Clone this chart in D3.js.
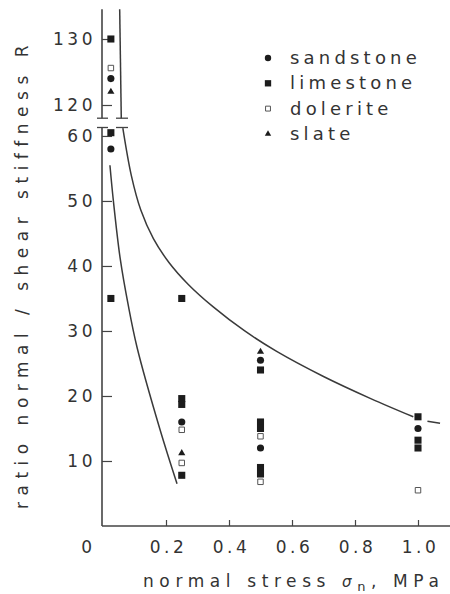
<!DOCTYPE html>
<html>
<head>
<meta charset="utf-8">
<script src="https://cdn.jsdelivr.net/npm/d3@7"></script>
<style>
body { margin: 0; background: #fff; }
svg text { font-family: 'DejaVu Sans', sans-serif; fill: #333; }
</style>
</head>
<body>
<svg width="450" height="594"></svg>
<script>
// data: [normal stress MPa, ratio R]
var sandstone = [[0.025, 124], [0.025, 58], [0.25, 16], [0.5, 25.5], [0.5, 12], [1.0, 15]];
var limestone = [[0.025, 130], [0.025, 60.5], [0.025, 35], [0.25, 35], [0.25, 19.6], [0.25, 18.7], [0.25, 7.8],
  [0.5, 24], [0.5, 16], [0.5, 15], [0.5, 9], [0.5, 8], [1.0, 16.8], [1.0, 13.2], [1.0, 12]];
var dolerite = [[0.025, 125.6], [0.25, 14.8], [0.25, 9.7], [0.5, 13.8], [0.5, 6.8], [1.0, 5.5]];
var slate = [[0.025, 122], [0.25, 11.2], [0.5, 26.8]];

// the two hand-drawn envelope curves
var upperCurveTop = [[0.053, 134.5], [0.058, 118]];
var upperCurve = [[0.063, 61.2], [0.09, 53.9], [0.12, 48.6], [0.16, 44.2], [0.21, 40.5], [0.27, 37.2], [0.35, 33.7],
  [0.45, 30], [0.55, 26.9], [0.7, 23], [0.85, 19.6], [0.985, 16.8]];
var upperTail = [[1.03, 16.1], [1.07, 15.8]];
var lowerCurve = [[0.022, 55.5], [0.033, 50], [0.055, 41], [0.08, 34], [0.108, 27.5], [0.18, 15], [0.235, 6.5]];

var xTicks = [0, 0.2, 0.4, 0.6, 0.8, 1.0];
var yTicksLow = [10, 20, 30, 40, 50, 60];
var yTicksHigh = [120, 130];
var legendNames = ['sandstone', 'limestone', 'dolerite', 'slate'];

var svg = d3.select('svg');
var ink = '#1c1c1c';

var x = d3.scaleLinear().domain([0, 1]).range([103, 418]);
// broken y axis: lower part 0..61.3, upper part 118..134.5
var yLow = d3.scaleLinear().domain([0, 61.3]).range([526, 127.5]);
var yHigh = d3.scaleLinear().domain([118, 134.5]).range([118.2, 9.3]);
function yOf(v) { return v > 100 ? yHigh(v) : yLow(v); }

var g = svg.append('g');

// axis lines drawn by hand so the break shows
g.append('line').attr('x1', 102).attr('x2', 102).attr('y1', yLow(0)).attr('y2', yLow(61.3))
  .attr('stroke', '#444').attr('stroke-width', 1.6);
g.append('line').attr('x1', 102).attr('x2', 102).attr('y1', yHigh(118)).attr('y2', yHigh(134.5))
  .attr('stroke', '#444').attr('stroke-width', 1.6);
g.append('line').attr('x1', 102).attr('x2', 450).attr('y1', yLow(0)).attr('y2', yLow(0))
  .attr('stroke', '#444').attr('stroke-width', 1.6);

// x axis
g.append('g')
  .attr('transform', 'translate(0,' + yLow(0) + ')')
  .call(d3.axisBottom(x).tickValues(xTicks).tickSizeInner(-6).tickSizeOuter(0).tickPadding(15)
    .tickFormat(function(d) { return d === 0 ? '0' : d.toFixed(1); }))
  .call(function(a) {
    a.select('.domain').remove();
    a.selectAll('line').attr('stroke', '#444').attr('stroke-width', 1.2)
      .filter(function(d) { return d === 0; }).remove();
    a.selectAll('text').attr('fill', '#333').style('font-size', '17px').style('letter-spacing', '3.5px')
      .attr('dx', function(d) { return d === 0 ? -15 : 2; });
  });

// y axis, both pieces
function yAxisPiece(scale, ticks) {
  g.append('g')
    .attr('transform', 'translate(102,0)')
    .call(d3.axisLeft(scale).tickValues(ticks).tickSizeInner(-10).tickSizeOuter(0).tickPadding(6))
    .call(function(a) {
      a.select('.domain').remove();
      a.selectAll('line').attr('stroke', '#444').attr('stroke-width', 1.2);
      a.selectAll('text').attr('fill', '#333').style('font-size', '17px').style('letter-spacing', '3.5px');
    });
}
yAxisPiece(yLow, yTicksLow);
yAxisPiece(yHigh, yTicksHigh);

// break marks on axis and on the curve
[yHigh(118), yLow(61.3)].forEach(function(yy) {
  g.append('line').attr('x1', 97).attr('x2', 108).attr('y1', yy).attr('y2', yy)
    .attr('stroke', '#444').attr('stroke-width', 1.3);
  g.append('line').attr('x1', 116).attr('x2', 128).attr('y1', yy).attr('y2', yy)
    .attr('stroke', '#444').attr('stroke-width', 1.3);
});

// curves
var line = d3.line()
  .curve(d3.curveCatmullRom)
  .x(function(d) { return x(d[0]); })
  .y(function(d) { return yOf(d[1]); });

[upperCurveTop, upperCurve, upperTail, lowerCurve].forEach(function(c) {
  g.append('path').attr('d', line(c)).attr('fill', 'none').attr('stroke', '#3a3a3a').attr('stroke-width', 1.5);
});

// markers
var shapes = {
  sandstone: { type: d3.symbolCircle, size: 40, fill: ink, stroke: 'none' },
  limestone: { type: d3.symbolSquare, size: 50, fill: ink, stroke: 'none' },
  dolerite: { type: d3.symbolSquare, size: 30, fill: '#fff', stroke: '#555' },
  slate: { type: d3.symbolTriangle, size: 22, fill: ink, stroke: 'none' }
};

function drawPoints(name, pts) {
  var s = shapes[name];
  g.append('g').attr('class', name)
    .selectAll('path')
    .data(pts)
    .enter()
    .append('path')
    .attr('d', d3.symbol().type(s.type).size(s.size))
    .attr('transform', function(d) { return 'translate(' + x(d[0]) + ',' + yOf(d[1]) + ')'; })
    .attr('fill', s.fill)
    .attr('stroke', s.stroke)
    .attr('stroke-width', 1);
}
drawPoints('limestone', limestone);
drawPoints('sandstone', sandstone);
drawPoints('dolerite', dolerite);
drawPoints('slate', slate);

// legend
var legend = g.append('g');
legendNames.forEach(function(name, i) {
  var cy = 58 + i * 25.3;
  var s = shapes[name];
  legend.append('path')
    .attr('d', d3.symbol().type(s.type).size(s.size * 0.8))
    .attr('transform', 'translate(268,' + cy + ')')
    .attr('fill', s.fill).attr('stroke', s.stroke);
  legend.append('text')
    .attr('x', 290).attr('y', cy + 6)
    .style('font-size', '18px').style('letter-spacing', '4.2px')
    .text(name);
});

// axis titles
svg.append('text')
  .attr('transform', 'translate(28,274) rotate(-90)')
  .attr('text-anchor', 'middle')
  .style('font-size', '17px').style('letter-spacing', '6.5px')
  .text('ratio normal / shear stiffness R');

var xt = svg.append('text')
  .attr('x', 143).attr('y', 587)
  .style('font-size', '17px').style('letter-spacing', '5.6px');
xt.append('tspan').text('normal stress ');
xt.append('tspan').style('font-style', 'italic').style('font-size', '15px').text('σ');
xt.append('tspan').attr('dy', 4).style('font-size', '13px').text('n');
xt.append('tspan').attr('dy', -4).text(', MPa');
</script>
</body>
</html>
